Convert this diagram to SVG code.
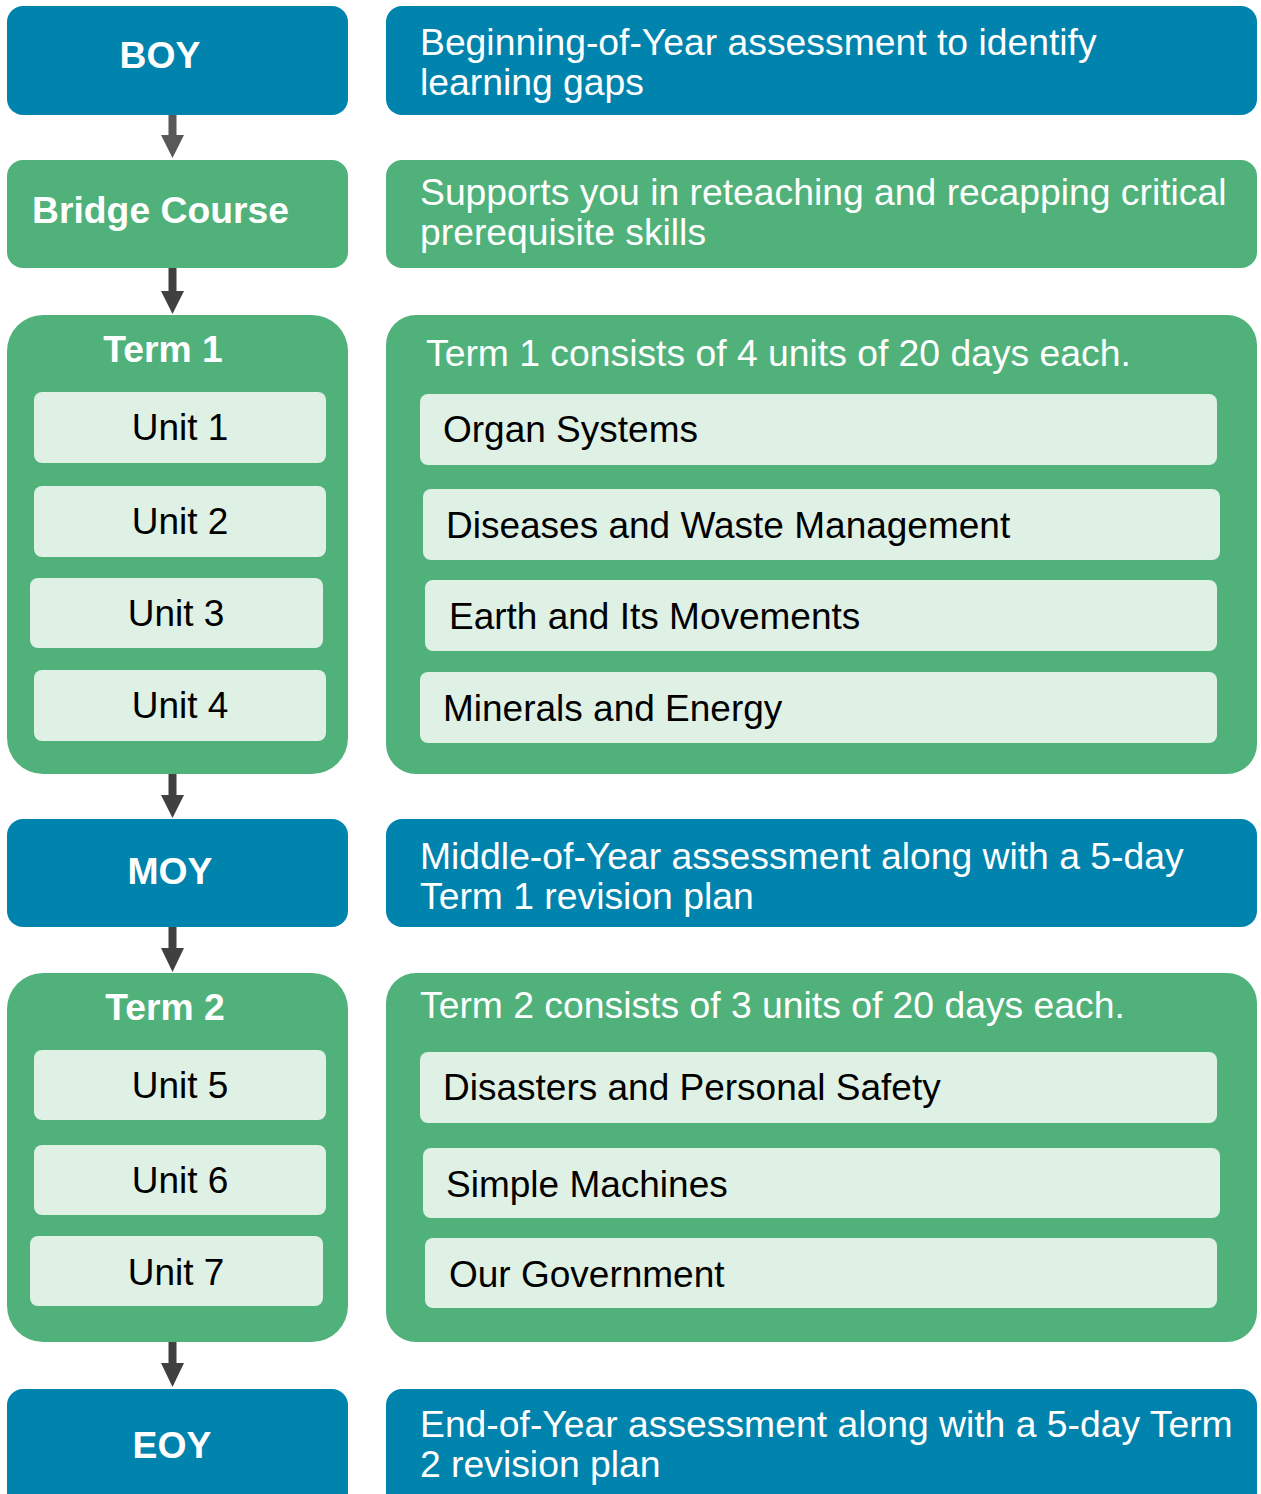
<svg xmlns="http://www.w3.org/2000/svg" width="1261" height="1494" viewBox="0 0 1261 1494">
<style>
.blue{fill:#0083AD}
.green{fill:#50B27A}
.light{fill:#DFF0E5}
.hd{font-family:"Liberation Sans",Arial,sans-serif;font-weight:bold;font-size:37.3px;fill:#fff}
.desc{font-family:"Liberation Sans",Arial,sans-serif;font-size:37.3px;fill:#fff}
.unit{font-family:"Liberation Sans",Arial,sans-serif;font-size:37px;fill:#000}
.mid{text-anchor:middle}
.arr{fill:#404040}
</style>
<rect width="1261" height="1494" fill="#fff"/>
<g id="connectors">
<path class="arr" d="M168.5 115 H176.5 V135 H184 L172.5 158 L161 135 H168.5 Z" style="fill:#595959"/>
<path class="arr" d="M168.5 268 H176.5 V291 H184 L172.5 314 L161 291 H168.5 Z"/>
<path class="arr" d="M168.5 773 H176.5 V795 H184 L172.5 818 L161 795 H168.5 Z"/>
<path class="arr" d="M168.5 927 H176.5 V948 H184 L172.5 972 L161 948 H168.5 Z"/>
<path class="arr" d="M168.5 1342 H176.5 V1363 H184 L172.5 1387 L161 1363 H168.5 Z"/>
</g>
<g id="boy">
<rect class="blue" x="7" y="6" width="341" height="109" rx="16"/>
<text class="hd mid" x="160" y="68">BOY</text>
</g>
<g id="boy-desc">
<rect class="blue" x="386" y="6" width="871" height="109" rx="16"/>
<text class="desc" x="420" y="55">Beginning-of-Year assessment to identify</text>
<text class="desc" x="420" y="95">learning gaps</text>
</g>
<g id="bridge">
<rect class="green" x="7" y="160" width="341" height="108" rx="16"/>
<text class="hd" x="32" y="223">Bridge Course</text>
</g>
<g id="bridge-desc">
<rect class="green" x="386" y="160" width="871" height="108" rx="16"/>
<text class="desc" x="420" y="205">Supports you in reteaching and recapping critical</text>
<text class="desc" x="420" y="245">prerequisite skills</text>
</g>
<g id="term1">
<rect class="green" x="7" y="315" width="341" height="459" rx="36"/>
<text class="hd mid" x="163" y="362">Term 1</text>
<rect class="light" x="34" y="392" width="292" height="71" rx="8"/>
<text class="unit mid" x="180" y="440">Unit 1</text>
<rect class="light" x="34" y="486" width="292" height="71" rx="8"/>
<text class="unit mid" x="180" y="534">Unit 2</text>
<rect class="light" x="30" y="578" width="293" height="70" rx="8"/>
<text class="unit mid" x="176" y="626">Unit 3</text>
<rect class="light" x="34" y="670" width="292" height="71" rx="8"/>
<text class="unit mid" x="180" y="718">Unit 4</text>
</g>
<g id="term1-desc">
<rect class="green" x="386" y="315" width="871" height="459" rx="30"/>
<text class="desc" x="426" y="366">Term 1 consists of 4 units of 20 days each.</text>
<rect class="light" x="420" y="394" width="797" height="71" rx="8"/>
<text class="unit" x="443" y="442">Organ Systems</text>
<rect class="light" x="423" y="489" width="797" height="71" rx="8"/>
<text class="unit" x="446" y="538">Diseases and Waste Management</text>
<rect class="light" x="425" y="580" width="792" height="71" rx="8"/>
<text class="unit" x="449" y="629">Earth and Its Movements</text>
<rect class="light" x="420" y="672" width="797" height="71" rx="8"/>
<text class="unit" x="443" y="721">Minerals and Energy</text>
</g>
<g id="moy">
<rect class="blue" x="7" y="819" width="341" height="108" rx="16"/>
<text class="hd mid" x="170" y="884">MOY</text>
</g>
<g id="moy-desc">
<rect class="blue" x="386" y="819" width="871" height="108" rx="16"/>
<text class="desc" x="420" y="869">Middle-of-Year assessment along with a 5-day</text>
<text class="desc" x="420" y="909">Term 1 revision plan</text>
</g>
<g id="term2">
<rect class="green" x="7" y="973" width="341" height="369" rx="36"/>
<text class="hd mid" x="165" y="1020">Term 2</text>
<rect class="light" x="34" y="1050" width="292" height="70" rx="8"/>
<text class="unit mid" x="180" y="1098">Unit 5</text>
<rect class="light" x="34" y="1145" width="292" height="70" rx="8"/>
<text class="unit mid" x="180" y="1193">Unit 6</text>
<rect class="light" x="30" y="1236" width="293" height="70" rx="8"/>
<text class="unit mid" x="176" y="1285">Unit 7</text>
</g>
<g id="term2-desc">
<rect class="green" x="386" y="973" width="871" height="369" rx="30"/>
<text class="desc" x="420" y="1018">Term 2 consists of 3 units of 20 days each.</text>
<rect class="light" x="420" y="1052" width="797" height="71" rx="8"/>
<text class="unit" x="443" y="1100">Disasters and Personal Safety</text>
<rect class="light" x="423" y="1148" width="797" height="70" rx="8"/>
<text class="unit" x="446" y="1197">Simple Machines</text>
<rect class="light" x="425" y="1238" width="792" height="70" rx="8"/>
<text class="unit" x="449" y="1287">Our Government</text>
</g>
<g id="eoy">
<rect class="blue" x="7" y="1389" width="341" height="130" rx="16"/>
<text class="hd mid" x="172" y="1458">EOY</text>
</g>
<g id="eoy-desc">
<rect class="blue" x="386" y="1389" width="871" height="130" rx="16"/>
<text class="desc" x="420" y="1437">End-of-Year assessment along with a 5-day Term</text>
<text class="desc" x="420" y="1477">2 revision plan</text>
</g>
</svg>
